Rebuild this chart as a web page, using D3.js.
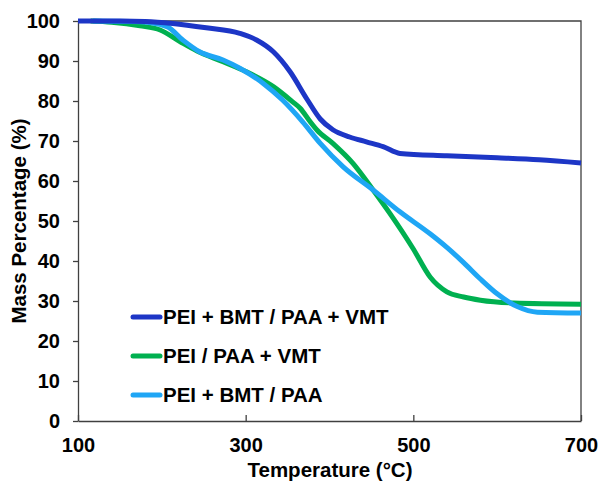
<!DOCTYPE html>
<html>
<head>
<meta charset="utf-8">
<script src="https://cdn.jsdelivr.net/npm/d3@7"></script>
<style>
  body { margin: 0; background: #fff; }
  text { font-family: "Liberation Sans", Arial, sans-serif; font-weight: bold; fill: #000; }
</style>
</head>
<body>
<svg width="602" height="483"></svg>
<script>
// temperatures (°C) and mass percentage
var bmtVmtT = [100, 150, 180, 213, 253, 293, 313, 333, 353, 373, 389, 404, 424, 444, 464, 484, 540, 600, 650, 700];
var bmtVmtV = [100, 100, 99.9, 99.4, 98.3, 96.9, 95.25, 92.3, 87.3, 80.5, 75.5, 72.8, 71, 69.8, 68.6, 66.9, 66.3, 65.8, 65.3, 64.5];

var vmtT = [115, 140, 174, 198, 222, 242, 273, 301, 333, 356, 365, 377, 385, 404, 428, 452, 472, 500, 520, 540, 560, 580, 620, 700];
var vmtV = [100, 99.7, 98.8, 97.75, 94.8, 92.5, 89.8, 87.3, 83.6, 79.8, 78.2, 74.8, 72.75, 69.4, 64.4, 57.75, 51.9, 43, 36, 32.3, 31, 30.2, 29.5, 29.2];

var bmtT = [118, 174, 206, 225, 245, 273, 293, 321, 344, 368, 389, 416, 452, 484, 520, 540, 560, 580, 600, 624, 648, 700];
var bmtV = [100, 99.8, 98.6, 95.25, 92.3, 90.25, 88.2, 84.4, 80.25, 74.8, 69.4, 63.6, 57.75, 52.3, 46.8, 43.4, 39.6, 35.5, 31.8, 28.6, 27.2, 27];

var seriesNames = ["PEI + BMT / PAA + VMT", "PEI / PAA + VMT", "PEI + BMT / PAA"];
var seriesColors = ["#1d36c6", "#00b050", "#1fa6f5"];
var xTicks = [100, 300, 500, 700];
var yTicks = [0, 10, 20, 30, 40, 50, 60, 70, 80, 90, 100];

var series = [
    { name: seriesNames[0], color: seriesColors[0], t: bmtVmtT, v: bmtVmtV },
    { name: seriesNames[1], color: seriesColors[1], t: vmtT, v: vmtV },
    { name: seriesNames[2], color: seriesColors[2], t: bmtT, v: bmtV }
];

var svg = d3.select("svg"),
    margin = { top: 21, right: 21, bottom: 62, left: 78 },
    width = +svg.attr("width") - margin.left - margin.right,
    height = +svg.attr("height") - margin.top - margin.bottom;

var g = svg.append("g").attr("transform", "translate(" + margin.left + "," + margin.top + ")");

var x = d3.scaleLinear().domain([100, 700]).range([0, width]);
var y = d3.scaleLinear().domain([0, 100]).range([height, 0]);

// frame (top and right)
g.append("path")
    .attr("d", "M0,0H" + width + "V" + height)
    .attr("fill", "none")
    .attr("stroke", "#404040")
    .attr("stroke-width", 1.3);

var yAxis = g.append("g")
    .call(d3.axisLeft(y).tickValues(yTicks).tickSize(5).tickSizeOuter(0).tickPadding(13));
var xAxis = g.append("g")
    .attr("transform", "translate(0," + height + ")")
    .call(d3.axisBottom(x).tickValues(xTicks).tickSize(-6).tickSizeOuter(0).tickPadding(17));

[xAxis, yAxis].forEach(function(a) {
    a.select(".domain").attr("stroke", "#404040").attr("stroke-width", 1.3);
    a.selectAll(".tick line").attr("stroke", "#404040").attr("stroke-width", 1.3);
    a.selectAll("text").style("font-size", "20px").attr("fill", "#000");
});

var line = d3.line()
    .x(function(d) { return x(d[0]); })
    .y(function(d) { return y(d[1]); })
    .curve(d3.curveMonotoneX);

// draw order: green, light blue, dark blue on top
[1, 2, 0].forEach(function(i) {
    var s = series[i];
    g.append("path")
        .datum(d3.zip(s.t, s.v))
        .attr("fill", "none")
        .attr("stroke", s.color)
        .attr("stroke-width", 5)
        .attr("stroke-linejoin", "round")
        .attr("d", line);
});

// legend
var legend = g.append("g").attr("transform", "translate(" + (133 - margin.left) + "," + (317 - margin.top) + ")");
var item = legend.selectAll("g")
    .data(series)
    .enter().append("g")
    .attr("transform", function(d, i) { return "translate(0," + (i * 39) + ")"; });
item.append("line")
    .attr("x1", 0).attr("x2", 27)
    .attr("stroke", function(d) { return d.color; })
    .attr("stroke-width", 5)
    .attr("stroke-linecap", "round");
item.append("text")
    .attr("x", 30)
    .attr("dy", "0.35em")
    .style("font-size", "20.5px")
    .text(function(d) { return d.name; });

// axis titles
svg.append("text")
    .attr("x", 330).attr("y", 477)
    .attr("text-anchor", "middle")
    .style("font-size", "20.5px")
    .text("Temperature (°C)");

svg.append("text")
    .attr("transform", "translate(26,221) rotate(-90)")
    .attr("text-anchor", "middle")
    .style("font-size", "20.5px")
    .text("Mass Percentage (%)");
</script>
</body>
</html>
